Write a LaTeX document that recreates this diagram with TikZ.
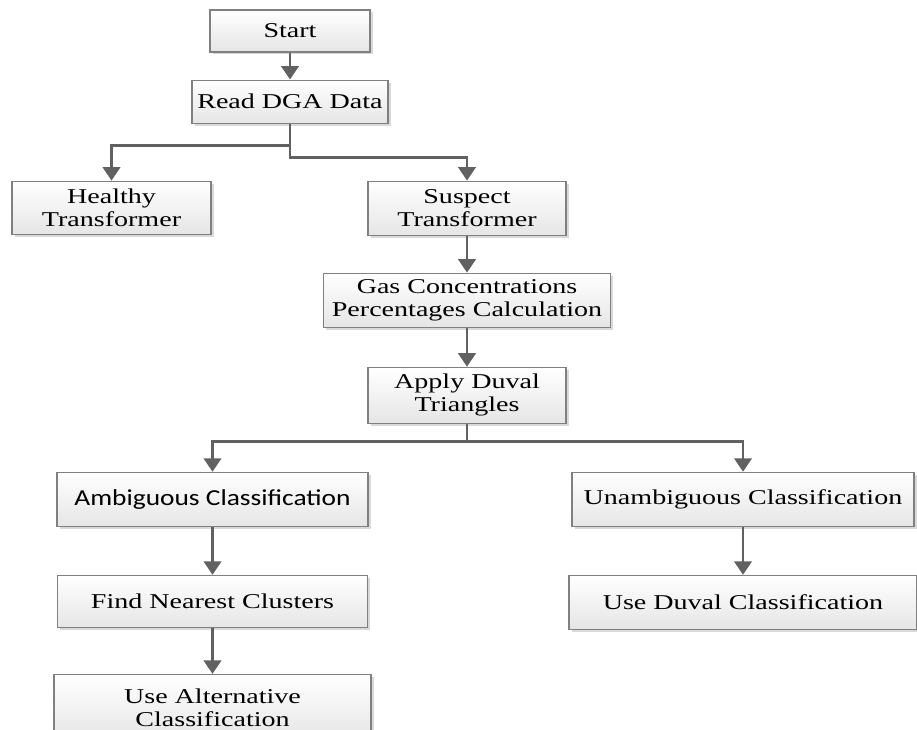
\documentclass[tikz,border=0pt]{standalone}
\usepackage{fontspec}
\setmainfont[FakeStretch=1.33]{Liberation Serif}
\setsansfont[FakeStretch=1.2]{Carlito}
\usetikzlibrary{arrows.meta, positioning, shadows}

\begin{document}
\begin{tikzpicture}[
    node distance=0.96cm,
    box/.style={rectangle, draw=black!50, line width=0.6pt, top color=white, bottom color=black!10,
        drop shadow={shadow xshift=0.05cm, shadow yshift=-0.05cm, fill=black!25, opacity=0.6},
        align=center, inner sep=2pt, font=\fontsize{12}{13.2}\selectfont},
    arrow/.style={-{Triangle[width=0.35cm, length=0.27cm]}, line width=1.5pt, draw=black!62},
]
    \path[use as bounding box, clip] (0,0) rectangle (18.34,-14.58);

    % Nodes
    \node[box, minimum width=3.2cm, minimum height=0.84cm] (start) at (5.8,-0.62) {Start};
    \node[box, below=0.54cm of start, minimum width=3.92cm, minimum height=0.86cm] (read) {Read DGA Data};
    \node[box, below=1.14cm of read, xshift=-3.57cm, minimum width=3.98cm, minimum height=1.06cm] (healthy) {Healthy\\Transformer};
    \node[box, below=1.14cm of read, xshift=3.54cm, minimum width=3.96cm, minimum height=1.08cm] (suspect) {Suspect\\Transformer};
    \node[box, below=0.74cm of suspect, minimum width=5.74cm, minimum height=1.08cm] (gas) {Gas Concentrations\\Percentages Calculation};
    \node[box, below=0.78cm of gas, minimum width=3.96cm, minimum height=1.12cm] (apply) {Apply Duval\\Triangles};

    % Branches
    \node[box, below=of apply, xshift=-5.09cm, minimum width=6.22cm, minimum height=1.08cm,
        font=\sffamily\fontsize{13}{15.6}\selectfont] (ambig) {Ambiguous Classification};
    \node[box, below=of apply, xshift=5.52cm, minimum width=6.84cm, minimum height=1.08cm] (unamb) {Unambiguous Classification};
    \node[box, below=of ambig, minimum width=6.2cm, minimum height=1.04cm] (find) {Find Nearest Clusters};
    \node[box, below=0.92cm of find, minimum width=6.34cm, minimum height=1.32cm] (usealt) {Use Alternative\\Classification};
    \node[box, below=of unamb, minimum width=6.96cm, minimum height=1.08cm] (useduval) {Use Duval Classification};

    % Arrows
    \draw[arrow] (start) -- (read);
    \draw[arrow] (read.south) -- ++(0,-0.44) -| (healthy);
    \draw[arrow] (read.south) -- ++(0,-0.68) -| (suspect);
    \draw[arrow] (suspect) -- (gas);
    \draw[arrow] (gas) -- (apply);
    \draw[arrow] (apply.south) -- ++(0,-0.36) -| (ambig);
    \draw[arrow] (apply.south) -- ++(0,-0.36) -| (unamb);
    \draw[arrow] (ambig) -- (find);
    \draw[arrow] (find) -- (usealt);
    \draw[arrow] (unamb) -- (useduval);
\end{tikzpicture}
\end{document}
